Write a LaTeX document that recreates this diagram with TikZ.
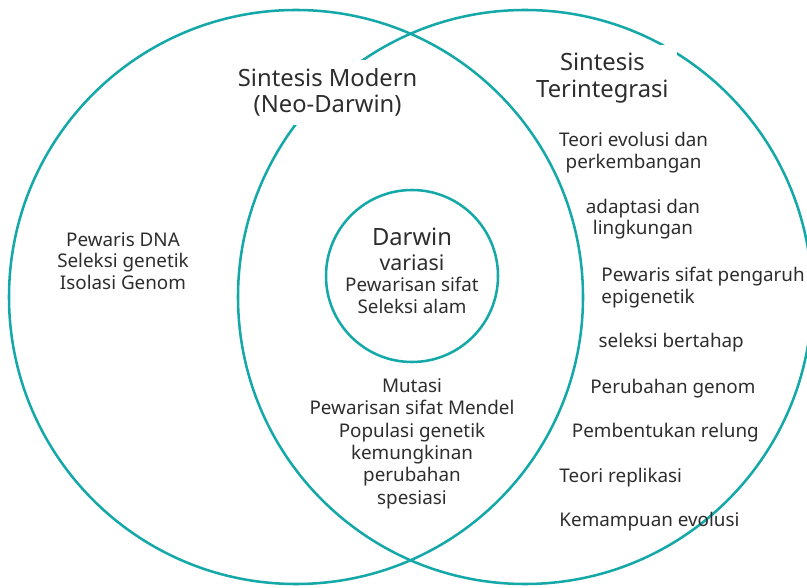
\documentclass[tikz,border=0pt]{standalone}
\usepackage{fontspec}
\setmainfont{Noto Sans}
\usepackage{xcolor}
\usepackage{tikz}
\usetikzlibrary{positioning}
\definecolor{tosca}{RGB}{20,168,168}
\definecolor{tinta}{RGB}{45,45,45}
\newcommand{\isi}{\fontsize{13.4pt}{15.4pt}\selectfont}
\newcommand{\judul}{\fontsize{16.9pt}{19pt}\selectfont}

\begin{document}
\begin{tikzpicture}[
  ring/.style={draw=tosca, line width=1.8pt, circle, inner sep=0pt},
  heading/.style={font=\judul, text=tinta, align=center, fill=white,
                  inner sep=0.2cm},
  item/.style={font=\isi, text=tinta, inner sep=0pt},
]
\useasboundingbox (0,0) rectangle (20.175,-14.7);
\clip (0,0) rectangle (20.175,-14.7);

% the three sets
\node[ring, minimum size=14.35cm] (modern) at (7.4,-7.425) {};
\node[ring, minimum size=14.35cm] (terpadu) at (13.125,-7.425) {};
\node[ring, minimum size=4.3cm] (darwin) at (10.3,-6.9) {};

% titles (white box breaks the ring)
\node[heading, anchor=north] (tModern) at (8.19,-1.4975)
  {Sintesis Modern\\(Neo-Darwin)};
\node[heading, anchor=north] (tTerpadu) at (15.06,-1.115)
  {Sintesis\\Terintegrasi};

% inner circle
\node[item, align=center, anchor=north] (tDarwin) at (10.3,-5.695)
  {{\judul Darwin}\\[0.085cm]{\fontsize{15.2pt}{17pt}\selectfont variasi}\\[-0.01cm]
   Pewarisan sifat\\Seleksi alam};

% left part
\node[item, align=center, anchor=north] (kiri) at (3.075,-5.8)
  {Pewaris DNA\\Seleksi genetik\\Isolasi Genom};

% middle part
\node[item, align=center, anchor=north, font=\fontsize{13.4pt}{15.9pt}\selectfont]
  (tengah) at (10.3,-9.46)
  {Mutasi\\Pewarisan sifat Mendel\\Populasi genetik\\kemungkinan\\perubahan\\spesiasi};

% right part
\node[item, align=center, anchor=north] (evo) at (15.84,-3.31)
  {Teori evolusi dan\\perkembangan};
\node[item, align=center, anchor=north] (adaptasi) at (16.075,-4.9675)
  {adaptasi dan\\lingkungan};
\node[item, align=left, anchor=north west] (epi) at (15.03,-6.67)
  {Pewaris sifat pengaruh\\epigenetik};
\node[item, anchor=base west] (seleksi) at (14.96,-8.69) {seleksi bertahap};
\node[item, anchor=base west] (genom) at (14.75,-9.83) {Perubahan genom};
\node[item, anchor=base west] (relung) at (14.29,-10.94) {Pembentukan relung};
\node[item, anchor=base west] (replikasi) at (13.98,-12.05) {Teori replikasi};
\node[item, anchor=base west] (kemampuan) at (13.98,-13.16) {Kemampuan evolusi};
\end{tikzpicture}
\end{document}
